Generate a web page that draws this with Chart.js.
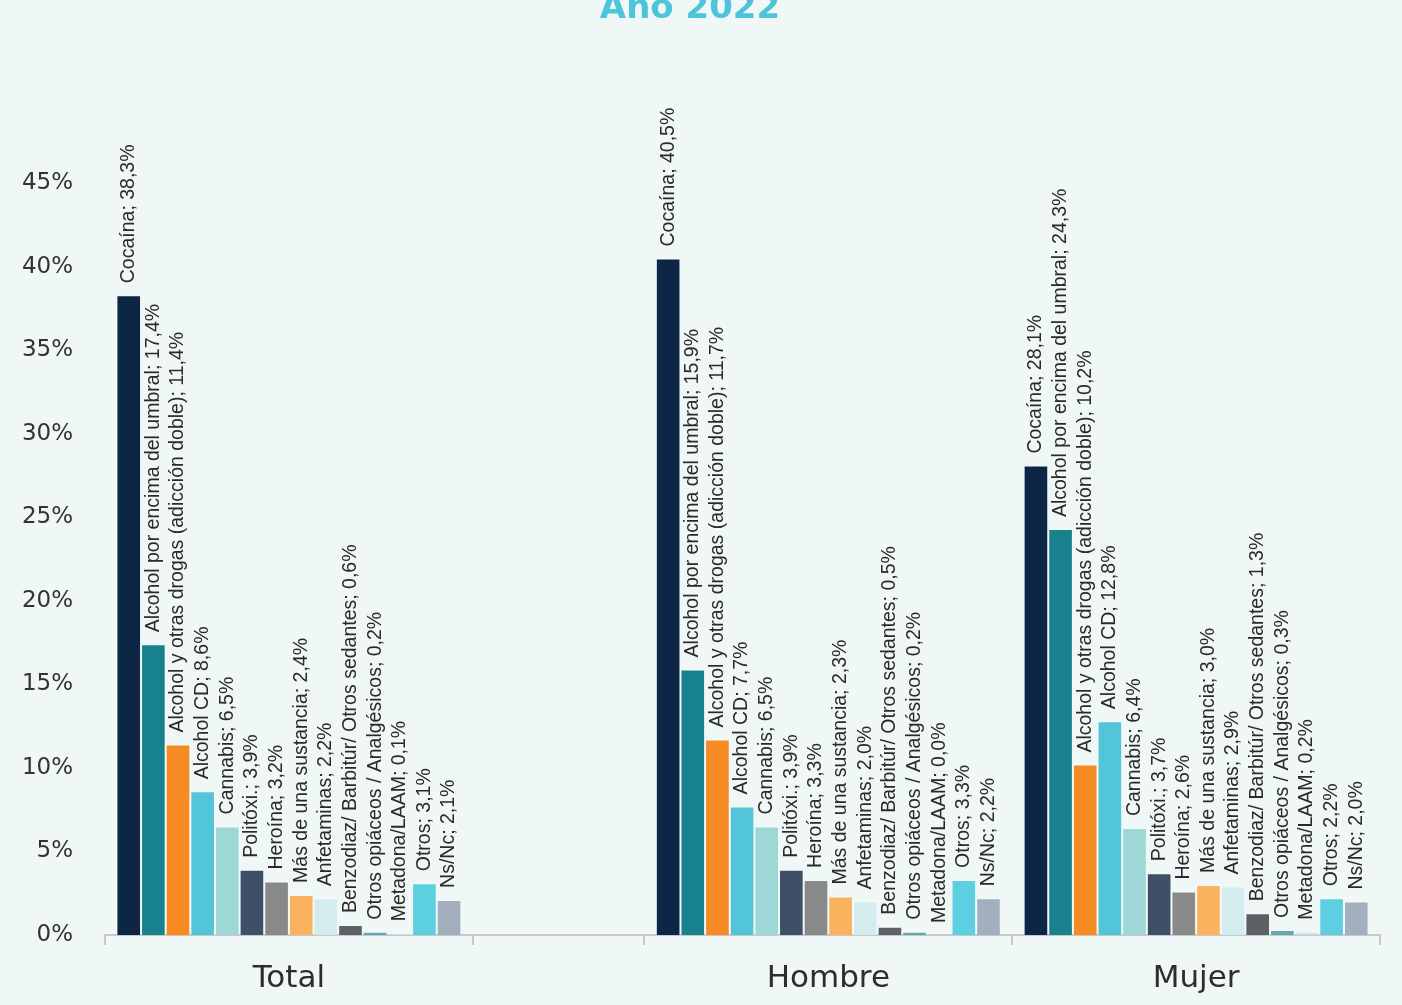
<!DOCTYPE html>
<html><head><meta charset="utf-8">
<script src="https://cdn.jsdelivr.net/npm/chart.js@4.4.1/dist/chart.umd.min.js"></script>
<style>
html,body{margin:0;padding:0;background:#f0f8f7;overflow:hidden;width:1402px;height:1005px}
#wrap{position:absolute;left:0;top:-11px;width:1402px;height:1016px}
</style></head><body>
<div id="wrap"><canvas id="c"></canvas></div>
<script>
const chartTitle = 'Año 2022';
const categories = ['Total', 'Hombre', 'Mujer'];
const substances = [
  'Cocaína',
  'Alcohol por encima del umbral',
  'Alcohol y otras drogas (adicción doble)',
  'Alcohol CD',
  'Cannabis',
  'Politóxi.',
  'Heroína',
  'Más de una sustancia',
  'Anfetaminas',
  'Benzodiaz/ Barbitúr/ Otros sedantes',
  'Otros opiáceos / Analgésicos',
  'Metadona/LAAM',
  'Otros',
  'Ns/Nc'
];
const totalValues  = [38.3, 17.4, 11.4, 8.6, 6.5, 3.9, 3.2, 2.4, 2.2, 0.6, 0.2, 0.1, 3.1, 2.1];
const hombreValues = [40.5, 15.9, 11.7, 7.7, 6.5, 3.9, 3.3, 2.3, 2.0, 0.5, 0.2, 0.0, 3.3, 2.2];
const mujerValues  = [28.1, 24.3, 10.2, 12.8, 6.4, 3.7, 2.6, 3.0, 2.9, 1.3, 0.3, 0.2, 2.2, 2.0];
const yTickValues = [0, 5, 10, 15, 20, 25, 30, 35, 40, 45];

const colors = ['#0d2645','#17828e','#f58b22','#52c5d9','#9dd7d6','#3d5067','#878a89',
                '#fbb25e','#d3ecee','#5c6164','#5ea9b3','#c5e6e9','#5ccfe1','#a1afbe'];

// x-axis layout in slot units: Total | empty gap | Hombre | Mujer
const slotSizes = [15, 7, 15, 15];
const groupSlots = [0, 2, 3];
const boundaries = [0];
slotSizes.forEach(s => boundaries.push(boundaries[boundaries.length - 1] + s));
const xMax = boundaries[boundaries.length - 1];
const centers = groupSlots.map(i => (boundaries[i] + boundaries[i + 1]) / 2);

const groupValues = [totalValues, hombreValues, mujerValues];
const fmt = v => v.toFixed(1).replace('.', ',') + '%';

const datasets = substances.map((name, i) => ({
  label: name,
  data: categories.map((c, g) => ({ x: centers[g], y: groupValues[g][i] })),
  backgroundColor: colors[i],
  borderColor: 'rgba(255,255,255,0.35)',
  borderWidth: 1,
  xAxisID: 'xl',
  yAxisID: 'y',
  categoryPercentage: 0.938,
  barPercentage: 1
}));

const barLabels = {
  id: 'barLabels',
  afterDatasetsDraw(chart) {
    const ctx = chart.ctx;
    ctx.save();
    ctx.font = '19.5px "Liberation Sans", Arial, sans-serif';
    ctx.fillStyle = '#2a2a2a';
    ctx.textAlign = 'left';
    ctx.textBaseline = 'middle';
    chart.data.datasets.forEach((ds, di) => {
      const meta = chart.getDatasetMeta(di);
      meta.data.forEach((el, j) => {
        const v = ds.data[j].y;
        ctx.save();
        ctx.translate(el.x, el.y - 12);
        ctx.rotate(-Math.PI / 2);
        ctx.fillText(ds.label + '; ' + fmt(v), 0, 0);
        ctx.restore();
      });
    });
    ctx.restore();
  }
};

new Chart(document.getElementById('c'), {
  type: 'bar',
  data: { datasets },
  plugins: [barLabels],
  options: {
    responsive: true,
    maintainAspectRatio: false,
    animation: false,
    layout: { padding: { left: 0, right: 22, top: 0, bottom: 0 } },
    plugins: {
      legend: { display: false },
      tooltip: { enabled: false },
      title: {
        display: true,
        text: chartTitle,
        color: '#4dc4da',
        font: { family: 'DejaVu Sans', size: 34, weight: 'bold' },
        padding: { top: 0, bottom: 70 }
      }
    },
    scales: {
      x: {
        type: 'linear',
        position: 'bottom',
        weight: 0,
        min: 0, max: xMax,
        offset: false,
        afterBuildTicks: axis => { axis.ticks = boundaries.map(v => ({ value: v })); },
        afterFit: axis => { axis.height = 10; },
        ticks: { display: false },
        grid: { display: true, drawOnChartArea: false, drawTicks: true, tickLength: 10,
                color: '#c8c8c8', lineWidth: 2, offset: false },
        border: { display: true, color: '#c8c8c8', width: 2 }
      },
      xl: {
        type: 'linear',
        position: 'bottom',
        weight: 1,
        min: 0, max: xMax,
        offset: false,
        afterBuildTicks: axis => { axis.ticks = centers.map(v => ({ value: v })); },
        afterFit: axis => { axis.height = 60; },
        ticks: {
          autoSkip: false, maxRotation: 0, minRotation: 0, padding: 15,
          color: '#2d2d2d',
          font: { family: 'DejaVu Sans', size: 31 },
          callback: v => categories[centers.indexOf(v)] ?? ''
        },
        grid: { display: false, drawTicks: false, offset: false },
        border: { display: false }
      },
      y: {
        type: 'linear',
        min: 0, max: 50,
        afterBuildTicks: axis => { axis.ticks = yTickValues.map(v => ({ value: v })); },
        afterFit: axis => { axis.width = 105; },
        ticks: {
          padding: 32,
          color: '#333333',
          font: { family: 'DejaVu Sans', size: 23 },
          callback: v => v + '%'
        },
        grid: { display: false, drawTicks: false },
        border: { display: false }
      }
    }
  }
});
</script>
</body></html>
